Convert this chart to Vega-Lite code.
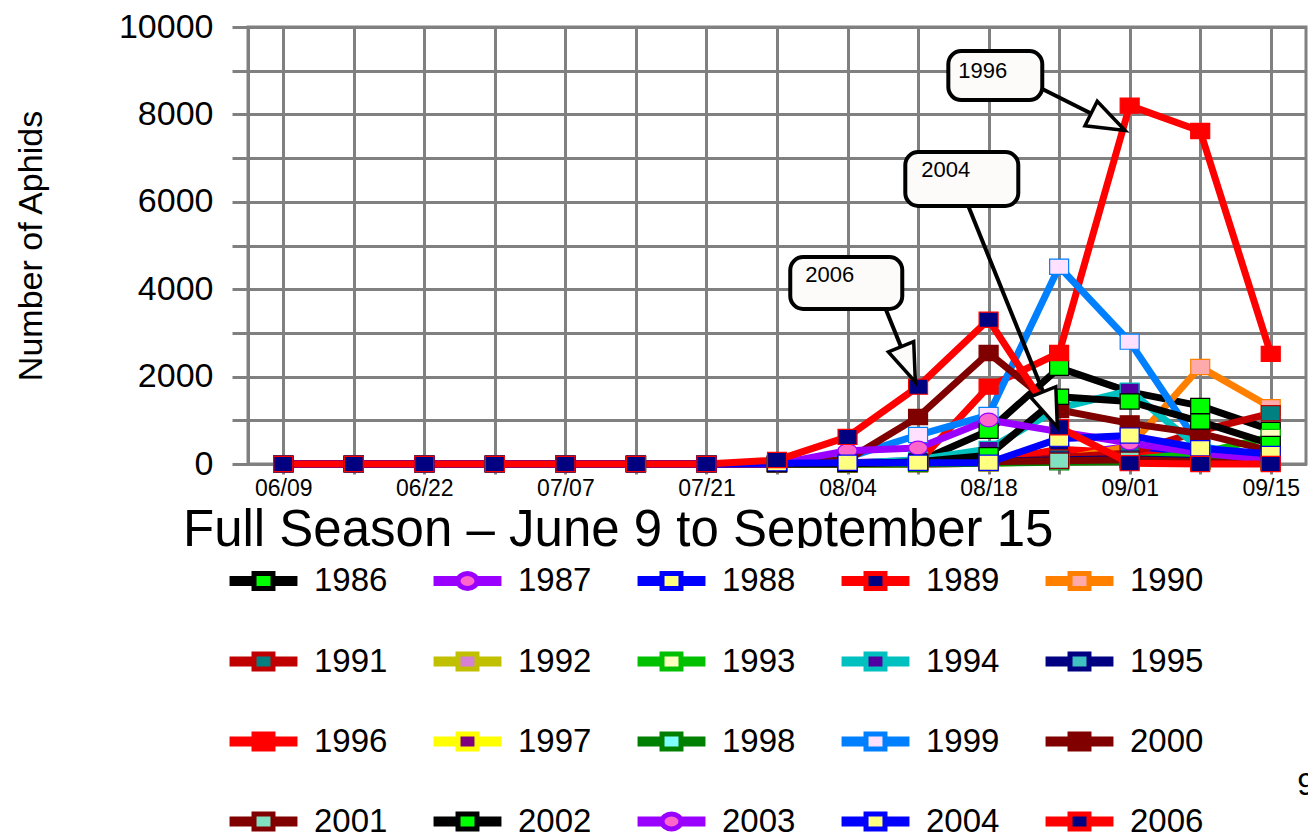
{
  "$schema": "https://vega.github.io/schema/vega-lite/v6.json",
  "width": 1058,
  "height": 437,
  "autosize": {"type": "none"},
  "padding": {"left": 248, "top": 27, "right": 2, "bottom": 371},
  "background": "white",
  "config": {
    "font": "Liberation Sans",
    "view": {"stroke": "#808080", "strokeWidth": 3}
  },
  "title": {
    "text": "Full Season – June 9 to September 15",
    "orient": "top",
    "anchor": "start",
    "frame": "group",
    "baseline": "alphabetic",
    "font": "Liberation Sans",
    "fontSize": 51,
    "fontWeight": "normal",
    "color": "black",
    "offset": 0,
    "dx": -65,
    "dy": 587,
    "zindex": 0
  },
  "datasets": {
    "aphids": [
      {"year":"1986","date":"06/09","aphids":0},{"year":"1986","date":"06/15","aphids":0},{"year":"1986","date":"06/22","aphids":0},{"year":"1986","date":"06/29","aphids":0},{"year":"1986","date":"07/07","aphids":0},{"year":"1986","date":"07/14","aphids":0},{"year":"1986","date":"07/21","aphids":0},{"year":"1986","date":"07/28","aphids":0},{"year":"1986","date":"08/04","aphids":20},{"year":"1986","date":"08/11","aphids":50},{"year":"1986","date":"08/18","aphids":760},{"year":"1986","date":"08/25","aphids":2200},{"year":"1986","date":"09/01","aphids":1650},{"year":"1986","date":"09/08","aphids":1330},{"year":"1986","date":"09/15","aphids":780},
      {"year":"1987","date":"06/09","aphids":0},{"year":"1987","date":"06/15","aphids":0},{"year":"1987","date":"06/22","aphids":0},{"year":"1987","date":"06/29","aphids":0},{"year":"1987","date":"07/07","aphids":0},{"year":"1987","date":"07/14","aphids":0},{"year":"1987","date":"07/21","aphids":0},{"year":"1987","date":"07/28","aphids":0},{"year":"1987","date":"08/04","aphids":30},{"year":"1987","date":"08/11","aphids":80},{"year":"1987","date":"08/18","aphids":100},{"year":"1987","date":"08/25","aphids":200},{"year":"1987","date":"09/01","aphids":400},{"year":"1987","date":"09/08","aphids":150},{"year":"1987","date":"09/15","aphids":50},
      {"year":"1988","date":"06/09","aphids":0},{"year":"1988","date":"06/15","aphids":0},{"year":"1988","date":"06/22","aphids":0},{"year":"1988","date":"06/29","aphids":0},{"year":"1988","date":"07/07","aphids":0},{"year":"1988","date":"07/14","aphids":0},{"year":"1988","date":"07/21","aphids":0},{"year":"1988","date":"07/28","aphids":0},{"year":"1988","date":"08/04","aphids":0},{"year":"1988","date":"08/11","aphids":10},{"year":"1988","date":"08/18","aphids":20},{"year":"1988","date":"08/25","aphids":250},{"year":"1988","date":"09/01","aphids":300},{"year":"1988","date":"09/08","aphids":200},{"year":"1988","date":"09/15","aphids":100},
      {"year":"1989","date":"06/09","aphids":0},{"year":"1989","date":"06/15","aphids":0},{"year":"1989","date":"06/22","aphids":0},{"year":"1989","date":"06/29","aphids":0},{"year":"1989","date":"07/07","aphids":0},{"year":"1989","date":"07/14","aphids":0},{"year":"1989","date":"07/21","aphids":0},{"year":"1989","date":"07/28","aphids":0},{"year":"1989","date":"08/04","aphids":0},{"year":"1989","date":"08/11","aphids":10},{"year":"1989","date":"08/18","aphids":50},{"year":"1989","date":"08/25","aphids":336},{"year":"1989","date":"09/01","aphids":250},{"year":"1989","date":"09/08","aphids":100},{"year":"1989","date":"09/15","aphids":50},
      {"year":"1990","date":"06/09","aphids":0},{"year":"1990","date":"06/15","aphids":0},{"year":"1990","date":"06/22","aphids":0},{"year":"1990","date":"06/29","aphids":0},{"year":"1990","date":"07/07","aphids":0},{"year":"1990","date":"07/14","aphids":0},{"year":"1990","date":"07/21","aphids":0},{"year":"1990","date":"07/28","aphids":0},{"year":"1990","date":"08/04","aphids":0},{"year":"1990","date":"08/11","aphids":0},{"year":"1990","date":"08/18","aphids":20},{"year":"1990","date":"08/25","aphids":100},{"year":"1990","date":"09/01","aphids":400},{"year":"1990","date":"09/08","aphids":2220},{"year":"1990","date":"09/15","aphids":1300},
      {"year":"1991","date":"06/09","aphids":0},{"year":"1991","date":"06/15","aphids":0},{"year":"1991","date":"06/22","aphids":0},{"year":"1991","date":"06/29","aphids":0},{"year":"1991","date":"07/07","aphids":0},{"year":"1991","date":"07/14","aphids":0},{"year":"1991","date":"07/21","aphids":0},{"year":"1991","date":"07/28","aphids":0},{"year":"1991","date":"08/04","aphids":0},{"year":"1991","date":"08/11","aphids":0},{"year":"1991","date":"08/18","aphids":20},{"year":"1991","date":"08/25","aphids":150},{"year":"1991","date":"09/01","aphids":250},{"year":"1991","date":"09/08","aphids":760},{"year":"1991","date":"09/15","aphids":1160},
      {"year":"1992","date":"06/09","aphids":0},{"year":"1992","date":"06/15","aphids":0},{"year":"1992","date":"06/22","aphids":0},{"year":"1992","date":"06/29","aphids":0},{"year":"1992","date":"07/07","aphids":0},{"year":"1992","date":"07/14","aphids":0},{"year":"1992","date":"07/21","aphids":0},{"year":"1992","date":"07/28","aphids":0},{"year":"1992","date":"08/04","aphids":0},{"year":"1992","date":"08/11","aphids":10},{"year":"1992","date":"08/18","aphids":30},{"year":"1992","date":"08/25","aphids":60},{"year":"1992","date":"09/01","aphids":80},{"year":"1992","date":"09/08","aphids":50},{"year":"1992","date":"09/15","aphids":20},
      {"year":"1993","date":"06/09","aphids":0},{"year":"1993","date":"06/15","aphids":0},{"year":"1993","date":"06/22","aphids":0},{"year":"1993","date":"06/29","aphids":0},{"year":"1993","date":"07/07","aphids":0},{"year":"1993","date":"07/14","aphids":0},{"year":"1993","date":"07/21","aphids":0},{"year":"1993","date":"07/28","aphids":0},{"year":"1993","date":"08/04","aphids":0},{"year":"1993","date":"08/11","aphids":10},{"year":"1993","date":"08/18","aphids":40},{"year":"1993","date":"08/25","aphids":60},{"year":"1993","date":"09/01","aphids":100},{"year":"1993","date":"09/08","aphids":250},{"year":"1993","date":"09/15","aphids":620},
      {"year":"1994","date":"06/09","aphids":0},{"year":"1994","date":"06/15","aphids":0},{"year":"1994","date":"06/22","aphids":0},{"year":"1994","date":"06/29","aphids":0},{"year":"1994","date":"07/07","aphids":0},{"year":"1994","date":"07/14","aphids":0},{"year":"1994","date":"07/21","aphids":0},{"year":"1994","date":"07/28","aphids":0},{"year":"1994","date":"08/04","aphids":10},{"year":"1994","date":"08/11","aphids":100},{"year":"1994","date":"08/18","aphids":343},{"year":"1994","date":"08/25","aphids":1281},{"year":"1994","date":"09/01","aphids":1677},{"year":"1994","date":"09/08","aphids":350},{"year":"1994","date":"09/15","aphids":100},
      {"year":"1995","date":"06/09","aphids":0},{"year":"1995","date":"06/15","aphids":0},{"year":"1995","date":"06/22","aphids":0},{"year":"1995","date":"06/29","aphids":0},{"year":"1995","date":"07/07","aphids":0},{"year":"1995","date":"07/14","aphids":0},{"year":"1995","date":"07/21","aphids":0},{"year":"1995","date":"07/28","aphids":0},{"year":"1995","date":"08/04","aphids":0},{"year":"1995","date":"08/11","aphids":20},{"year":"1995","date":"08/18","aphids":60},{"year":"1995","date":"08/25","aphids":100},{"year":"1995","date":"09/01","aphids":120},{"year":"1995","date":"09/08","aphids":80},{"year":"1995","date":"09/15","aphids":30},
      {"year":"1996","date":"06/09","aphids":0},{"year":"1996","date":"06/15","aphids":0},{"year":"1996","date":"06/22","aphids":0},{"year":"1996","date":"06/29","aphids":0},{"year":"1996","date":"07/07","aphids":0},{"year":"1996","date":"07/14","aphids":0},{"year":"1996","date":"07/21","aphids":0},{"year":"1996","date":"07/28","aphids":0},{"year":"1996","date":"08/04","aphids":0},{"year":"1996","date":"08/11","aphids":30},{"year":"1996","date":"08/18","aphids":1770},{"year":"1996","date":"08/25","aphids":2540},{"year":"1996","date":"09/01","aphids":8200},{"year":"1996","date":"09/08","aphids":7620},{"year":"1996","date":"09/15","aphids":2520},
      {"year":"1997","date":"06/09","aphids":0},{"year":"1997","date":"06/15","aphids":0},{"year":"1997","date":"06/22","aphids":0},{"year":"1997","date":"06/29","aphids":0},{"year":"1997","date":"07/07","aphids":0},{"year":"1997","date":"07/14","aphids":0},{"year":"1997","date":"07/21","aphids":0},{"year":"1997","date":"07/28","aphids":0},{"year":"1997","date":"08/04","aphids":0},{"year":"1997","date":"08/11","aphids":10},{"year":"1997","date":"08/18","aphids":20},{"year":"1997","date":"08/25","aphids":50},{"year":"1997","date":"09/01","aphids":60},{"year":"1997","date":"09/08","aphids":40},{"year":"1997","date":"09/15","aphids":10},
      {"year":"1998","date":"06/09","aphids":0},{"year":"1998","date":"06/15","aphids":0},{"year":"1998","date":"06/22","aphids":0},{"year":"1998","date":"06/29","aphids":0},{"year":"1998","date":"07/07","aphids":0},{"year":"1998","date":"07/14","aphids":0},{"year":"1998","date":"07/21","aphids":0},{"year":"1998","date":"07/28","aphids":0},{"year":"1998","date":"08/04","aphids":0},{"year":"1998","date":"08/11","aphids":0},{"year":"1998","date":"08/18","aphids":20},{"year":"1998","date":"08/25","aphids":40},{"year":"1998","date":"09/01","aphids":60},{"year":"1998","date":"09/08","aphids":50},{"year":"1998","date":"09/15","aphids":350},
      {"year":"1999","date":"06/09","aphids":0},{"year":"1999","date":"06/15","aphids":0},{"year":"1999","date":"06/22","aphids":0},{"year":"1999","date":"06/29","aphids":0},{"year":"1999","date":"07/07","aphids":0},{"year":"1999","date":"07/14","aphids":0},{"year":"1999","date":"07/21","aphids":0},{"year":"1999","date":"07/28","aphids":0},{"year":"1999","date":"08/04","aphids":150},{"year":"1999","date":"08/11","aphids":663},{"year":"1999","date":"08/18","aphids":1121},{"year":"1999","date":"08/25","aphids":4515},{"year":"1999","date":"09/01","aphids":2800},{"year":"1999","date":"09/08","aphids":400},{"year":"1999","date":"09/15","aphids":150},
      {"year":"2000","date":"06/09","aphids":0},{"year":"2000","date":"06/15","aphids":0},{"year":"2000","date":"06/22","aphids":0},{"year":"2000","date":"06/29","aphids":0},{"year":"2000","date":"07/07","aphids":0},{"year":"2000","date":"07/14","aphids":0},{"year":"2000","date":"07/21","aphids":0},{"year":"2000","date":"07/28","aphids":0},{"year":"2000","date":"08/04","aphids":100},{"year":"2000","date":"08/11","aphids":1075},{"year":"2000","date":"08/18","aphids":2540},{"year":"2000","date":"08/25","aphids":1235},{"year":"2000","date":"09/01","aphids":930},{"year":"2000","date":"09/08","aphids":700},{"year":"2000","date":"09/15","aphids":300},
      {"year":"2001","date":"06/09","aphids":0},{"year":"2001","date":"06/15","aphids":0},{"year":"2001","date":"06/22","aphids":0},{"year":"2001","date":"06/29","aphids":0},{"year":"2001","date":"07/07","aphids":0},{"year":"2001","date":"07/14","aphids":0},{"year":"2001","date":"07/21","aphids":0},{"year":"2001","date":"07/28","aphids":0},{"year":"2001","date":"08/04","aphids":20},{"year":"2001","date":"08/11","aphids":40},{"year":"2001","date":"08/18","aphids":50},{"year":"2001","date":"08/25","aphids":76},{"year":"2001","date":"09/01","aphids":100},{"year":"2001","date":"09/08","aphids":50},{"year":"2001","date":"09/15","aphids":30},
      {"year":"2002","date":"06/09","aphids":0},{"year":"2002","date":"06/15","aphids":0},{"year":"2002","date":"06/22","aphids":0},{"year":"2002","date":"06/29","aphids":0},{"year":"2002","date":"07/07","aphids":0},{"year":"2002","date":"07/14","aphids":0},{"year":"2002","date":"07/21","aphids":0},{"year":"2002","date":"07/28","aphids":0},{"year":"2002","date":"08/04","aphids":0},{"year":"2002","date":"08/11","aphids":50},{"year":"2002","date":"08/18","aphids":200},{"year":"2002","date":"08/25","aphids":1540},{"year":"2002","date":"09/01","aphids":1430},{"year":"2002","date":"09/08","aphids":970},{"year":"2002","date":"09/15","aphids":460},
      {"year":"2003","date":"06/09","aphids":0},{"year":"2003","date":"06/15","aphids":0},{"year":"2003","date":"06/22","aphids":0},{"year":"2003","date":"06/29","aphids":0},{"year":"2003","date":"07/07","aphids":0},{"year":"2003","date":"07/14","aphids":0},{"year":"2003","date":"07/21","aphids":0},{"year":"2003","date":"07/28","aphids":0},{"year":"2003","date":"08/04","aphids":305},{"year":"2003","date":"08/11","aphids":366},{"year":"2003","date":"08/18","aphids":1007},{"year":"2003","date":"08/25","aphids":740},{"year":"2003","date":"09/01","aphids":480},{"year":"2003","date":"09/08","aphids":250},{"year":"2003","date":"09/15","aphids":90},
      {"year":"2004","date":"06/09","aphids":0},{"year":"2004","date":"06/15","aphids":0},{"year":"2004","date":"06/22","aphids":0},{"year":"2004","date":"06/29","aphids":0},{"year":"2004","date":"07/07","aphids":0},{"year":"2004","date":"07/14","aphids":0},{"year":"2004","date":"07/21","aphids":0},{"year":"2004","date":"07/28","aphids":20},{"year":"2004","date":"08/04","aphids":30},{"year":"2004","date":"08/11","aphids":30},{"year":"2004","date":"08/18","aphids":30},{"year":"2004","date":"08/25","aphids":580},{"year":"2004","date":"09/01","aphids":650},{"year":"2004","date":"09/08","aphids":360},{"year":"2004","date":"09/15","aphids":230},
      {"year":"2006","date":"06/09","aphids":0},{"year":"2006","date":"06/15","aphids":0},{"year":"2006","date":"06/22","aphids":0},{"year":"2006","date":"06/29","aphids":0},{"year":"2006","date":"07/07","aphids":0},{"year":"2006","date":"07/14","aphids":0},{"year":"2006","date":"07/21","aphids":0},{"year":"2006","date":"07/28","aphids":90},{"year":"2006","date":"08/04","aphids":620},{"year":"2006","date":"08/11","aphids":1770},{"year":"2006","date":"08/18","aphids":3300},{"year":"2006","date":"08/25","aphids":840},{"year":"2006","date":"09/01","aphids":20},{"year":"2006","date":"09/08","aphids":0},{"year":"2006","date":"09/15","aphids":0}
    ],
    "boxes": [
      {"label": "1996", "x": 9.429, "x2": 10.761, "y": 9451, "y2": 8329, "tx": 9.57, "ty": 8993},
      {"label": "2004", "x": 8.819, "x2": 10.421, "y": 7139, "y2": 5904, "tx": 9.046, "ty": 6728},
      {"label": "2006", "x": 7.188, "x2": 8.776, "y": 4737, "y2": 3547, "tx": 7.401, "ty": 4325}
    ],
    "arrows": [
      {"label": "1996", "x": 10.705, "y": 8627, "x2": 11.694, "y2": 7826},
      {"label": "2004", "x": 9.712, "y": 5904, "x2": 10.874, "y2": 1249},
      {"label": "2006", "x": 8.535, "y": 3570, "x2": 8.86, "y2": 2279}
    ],
    "notes": [
      {"note": "9", "x": 14.377, "y": -7345}
    ]
  },
  "layer": [
    {
      "data": {"name": "aphids"},
      "encoding": {
        "x": {
          "field": "date", "type": "ordinal",
          "scale": {"type": "point", "padding": 0.5, "domain": ["06/09","06/15","06/22","06/29","07/07","07/14","07/21","07/28","08/04","08/11","08/18","08/25","09/01","09/08","09/15"]},
          "axis": {
            "title": null,
            "labelExpr": "indexof(['06/09','06/22','07/07','07/21','08/04','08/18','09/01','09/15'], datum.value) >= 0 ? datum.value : ''",
            "labelAngle": 0, "labelOverlap": false,
            "labelFont": "Liberation Sans", "labelFontSize": 23, "labelColor": "black", "labelPadding": 3,
            "grid": true, "gridColor": "#808080", "gridWidth": 3, "gridOpacity": 1,
            "ticks": true, "tickSize": 10, "tickColor": "#808080", "tickWidth": 3, "tickOpacity": 1,
            "domain": true, "domainColor": "#808080", "domainWidth": 3, "domainOpacity": 1
          }
        },
        "y": {
          "field": "aphids", "type": "quantitative",
          "scale": {"domain": [0, 10000], "nice": false},
          "axis": {
            "title": "Number of Aphids",
            "titleFont": "Liberation Sans", "titleFontSize": 34, "titleFontWeight": "normal", "titleColor": "black", "titlePadding": 70,
            "values": [0,1000,2000,3000,4000,5000,6000,7000,8000,9000,10000],
            "format": "d",
            "labelExpr": "datum.value % 2000 == 0 ? datum.label : ''",
            "labelOverlap": false,
            "labelFont": "Liberation Sans", "labelFontSize": 34, "labelColor": "black", "labelPadding": 19,
            "grid": true, "gridColor": "#808080", "gridWidth": 3, "gridOpacity": 1,
            "ticks": true, "tickSize": 16, "tickColor": "#808080", "tickWidth": 3, "tickOpacity": 1,
            "domain": true, "domainColor": "#808080", "domainWidth": 3, "domainOpacity": 1
          }
        }
      },
      "layer": [
        {
          "mark": {"type": "line", "strokeWidth": 7, "strokeJoin": "round", "opacity": 1},
          "encoding": {
            "stroke": {
              "field": "year", "type": "nominal",
              "scale": {
                "domain": ["1986","1987","1988","1989","1990","1991","1992","1993","1994","1995","1996","1997","1998","1999","2000","2001","2002","2003","2004","2006"],
                "range": ["#000000","#9900FF","#0000FF","#FF0000","#FF8000","#C00000","#C0C000","#00C000","#00C0C0","#000080","#FF0000","#FFFF00","#008000","#0080FF","#800000","#800000","#000000","#9900FF","#0000FF","#FF0000"]
              },
              "legend": {
                "title": null, "orient": "none", "legendX": -17, "legendY": 521,
                "direction": "horizontal", "columns": 5, "padding": 0,
                "fillColor": "white", "zindex": 1,
                "symbolType": "M-2.298,-0.98M-1.132,-0.082H-0.316M-1.132,0.082H-0.316M0.316,-0.082H1.132M0.316,0.082H1.132M-0.316,-0.25H0.316V0.25H-0.316Z",
                "symbolSize": 3600, "symbolStrokeWidth": 5,
                "labelFont": "Liberation Sans", "labelFontSize": 33, "labelColor": "black", "labelOffset": 18, "labelLimit": 300,
                "columnPadding": 0, "rowPadding": 23
              }
            },
            "strokeWidth": {"condition": {"test": "datum.year == '1996'", "value": 10}, "value": 7}
          }
        },
        {
          "mark": {
            "type": "point", "filled": true, "size": 361, "strokeWidth": 1.2, "opacity": 1,
            "shape": {"expr": "indexof(['1987','2003'], datum.year) >= 0 ? 'M-1,0A1,0.72,0,1,1,1,0A1,0.72,0,1,1,-1,0Z' : 'M-1,-0.8H1V0.8H-1Z'"}
          },
          "encoding": {
            "fill": {
              "field": "year", "type": "nominal",
              "scale": {
                "domain": ["1986","1987","1988","1989","1990","1991","1992","1993","1994","1995","1996","1997","1998","1999","2000","2001","2002","2003","2004","2006"],
                "range": ["#00FF00","#FF66CC","#FFFF80","#000080","#FFAAAA","#008080","#D580D5","#FFFFC0","#5000A0","#40C0C0","#FF0000","#800080","#80FFFF","#FFE0FF","#800000","#80E0C0","#00FF00","#FF66CC","#FFFF80","#000080"]
              },
              "legend": {
                "title": null, "orient": "none", "legendX": -17, "legendY": 521,
                "direction": "horizontal", "columns": 5, "padding": 0,
                "fillColor": "white", "zindex": 1,
                "symbolType": "M-2.298,-0.98M-1.132,-0.082H-0.316M-1.132,0.082H-0.316M0.316,-0.082H1.132M0.316,0.082H1.132M-0.316,-0.25H0.316V0.25H-0.316Z",
                "symbolSize": 3600, "symbolStrokeWidth": 5,
                "labelFont": "Liberation Sans", "labelFontSize": 33, "labelColor": "black", "labelOffset": 18, "labelLimit": 300,
                "columnPadding": 0, "rowPadding": 23
              }
            },
            "stroke": {
              "field": "year", "type": "nominal",
              "scale": {
                "domain": ["1986","1987","1988","1989","1990","1991","1992","1993","1994","1995","1996","1997","1998","1999","2000","2001","2002","2003","2004","2006"],
                "range": ["#000000","#9900FF","#0000FF","#FF0000","#FF8000","#C00000","#C0C000","#00C000","#00C0C0","#000080","#FF0000","#FFFF00","#008000","#0080FF","#800000","#800000","#000000","#9900FF","#0000FF","#FF0000"]
              },
              "legend": {
                "title": null, "orient": "none", "legendX": -17, "legendY": 521,
                "direction": "horizontal", "columns": 5, "padding": 0,
                "fillColor": "white", "zindex": 1,
                "symbolType": "M-2.298,-0.98M-1.132,-0.082H-0.316M-1.132,0.082H-0.316M0.316,-0.082H1.132M0.316,0.082H1.132M-0.316,-0.25H0.316V0.25H-0.316Z",
                "symbolSize": 3600, "symbolStrokeWidth": 5,
                "labelFont": "Liberation Sans", "labelFontSize": 33, "labelColor": "black", "labelOffset": 18, "labelLimit": 300,
                "columnPadding": 0, "rowPadding": 23
              }
            }
          }
        },
        {
          "transform": [{"filter": "datum.date == '06/09'"}],
          "mark": {"type": "point", "filled": true, "opacity": 0, "size": 30},
          "encoding": {
            "shape": {
              "field": "year", "type": "nominal",
              "scale": {
                "domain": ["1986","1987","1988","1989","1990","1991","1992","1993","1994","1995","1996","1997","1998","1999","2000","2001","2002","2003","2004","2006"],
                "range": [
                  "M-2.298,-0.98M-1.132,-0.082H-0.316M-1.132,0.082H-0.316M0.316,-0.082H1.132M0.316,0.082H1.132M-0.316,-0.25H0.316V0.25H-0.316Z",
                  "M-2.298,-0.98M-1.132,-0.082H-0.316M-1.132,0.082H-0.316M0.316,-0.082H1.132M0.316,0.082H1.132M-0.316,0A0.316,0.25,0,1,1,0.316,0A0.316,0.25,0,1,1,-0.316,0Z",
                  "M-2.298,-0.98M-1.132,-0.082H-0.316M-1.132,0.082H-0.316M0.316,-0.082H1.132M0.316,0.082H1.132M-0.316,-0.25H0.316V0.25H-0.316Z",
                  "M-2.298,-0.98M-1.132,-0.082H-0.316M-1.132,0.082H-0.316M0.316,-0.082H1.132M0.316,0.082H1.132M-0.316,-0.25H0.316V0.25H-0.316Z",
                  "M-2.298,-0.98M-1.132,-0.082H-0.316M-1.132,0.082H-0.316M0.316,-0.082H1.132M0.316,0.082H1.132M-0.316,-0.25H0.316V0.25H-0.316Z",
                  "M-2.298,-0.98M-1.132,-0.082H-0.316M-1.132,0.082H-0.316M0.316,-0.082H1.132M0.316,0.082H1.132M-0.316,-0.25H0.316V0.25H-0.316Z",
                  "M-2.298,-0.98M-1.132,-0.082H-0.316M-1.132,0.082H-0.316M0.316,-0.082H1.132M0.316,0.082H1.132M-0.316,-0.25H0.316V0.25H-0.316Z",
                  "M-2.298,-0.98M-1.132,-0.082H-0.316M-1.132,0.082H-0.316M0.316,-0.082H1.132M0.316,0.082H1.132M-0.316,-0.25H0.316V0.25H-0.316Z",
                  "M-2.298,-0.98M-1.132,-0.082H-0.316M-1.132,0.082H-0.316M0.316,-0.082H1.132M0.316,0.082H1.132M-0.316,-0.25H0.316V0.25H-0.316Z",
                  "M-2.298,-0.98M-1.132,-0.082H-0.316M-1.132,0.082H-0.316M0.316,-0.082H1.132M0.316,0.082H1.132M-0.316,-0.25H0.316V0.25H-0.316Z",
                  "M-2.298,-0.98M-1.132,-0.082H-0.316M-1.132,0.082H-0.316M0.316,-0.082H1.132M0.316,0.082H1.132M-0.316,-0.25H0.316V0.25H-0.316Z",
                  "M-2.298,-0.98M-1.132,-0.082H-0.316M-1.132,0.082H-0.316M0.316,-0.082H1.132M0.316,0.082H1.132M-0.316,-0.25H0.316V0.25H-0.316Z",
                  "M-2.298,-0.98M-1.132,-0.082H-0.316M-1.132,0.082H-0.316M0.316,-0.082H1.132M0.316,0.082H1.132M-0.316,-0.25H0.316V0.25H-0.316Z",
                  "M-2.298,-0.98M-1.132,-0.082H-0.316M-1.132,0.082H-0.316M0.316,-0.082H1.132M0.316,0.082H1.132M-0.316,-0.25H0.316V0.25H-0.316Z",
                  "M-2.298,-0.98M-1.132,-0.082H-0.316M-1.132,0.082H-0.316M0.316,-0.082H1.132M0.316,0.082H1.132M-0.316,-0.25H0.316V0.25H-0.316Z",
                  "M-2.298,-0.98M-1.132,-0.082H-0.316M-1.132,0.082H-0.316M0.316,-0.082H1.132M0.316,0.082H1.132M-0.316,-0.25H0.316V0.25H-0.316Z",
                  "M-2.298,-0.98M-1.132,-0.082H-0.316M-1.132,0.082H-0.316M0.316,-0.082H1.132M0.316,0.082H1.132M-0.316,-0.25H0.316V0.25H-0.316Z",
                  "M-2.298,-0.98M-1.132,-0.082H-0.316M-1.132,0.082H-0.316M0.316,-0.082H1.132M0.316,0.082H1.132M-0.316,0A0.316,0.25,0,1,1,0.316,0A0.316,0.25,0,1,1,-0.316,0Z",
                  "M-2.298,-0.98M-1.132,-0.082H-0.316M-1.132,0.082H-0.316M0.316,-0.082H1.132M0.316,0.082H1.132M-0.316,-0.25H0.316V0.25H-0.316Z",
                  "M-2.298,-0.98M-1.132,-0.082H-0.316M-1.132,0.082H-0.316M0.316,-0.082H1.132M0.316,0.082H1.132M-0.316,-0.25H0.316V0.25H-0.316Z"
                ]
              },
              "legend": {
                "title": null, "orient": "none", "legendX": -17, "legendY": 521,
                "direction": "horizontal", "columns": 5, "padding": 0,
                "fillColor": "white", "zindex": 1,
                "symbolSize": 3600, "symbolStrokeWidth": 5,
                "labelFont": "Liberation Sans", "labelFontSize": 33, "labelColor": "black", "labelOffset": 18, "labelLimit": 300,
                "columnPadding": 0, "rowPadding": 23
              }
            }
          }
        }
      ]
    },
    {
      "data": {"name": "arrows"},
      "mark": {"type": "rule", "color": "black", "strokeWidth": 4},
      "encoding": {
        "x": {"field": "x", "type": "quantitative", "scale": {"domain": [-0.5, 14.5], "nice": false, "zero": false}, "axis": null},
        "x2": {"field": "x2"},
        "y": {"field": "y", "type": "quantitative", "scale": {"domain": [0, 10000], "nice": false}, "axis": null},
        "y2": {"field": "y2"}
      }
    },
    {
      "data": {"name": "arrows"},
      "mark": {
        "type": "point", "filled": true, "fill": "#FCFBF9", "stroke": "black", "strokeWidth": 3.5, "opacity": 1,
        "shape": "M1,0L-1,-0.72L-1,0.72Z", "size": 1444,
        "angle": {"expr": "atan2((datum.y - datum.y2) * 0.0437, (datum.x2 - datum.x) * 70.53) * 180 / PI"}
      },
      "encoding": {
        "x": {"field": "x2", "type": "quantitative", "scale": {"domain": [-0.5, 14.5], "nice": false, "zero": false}, "axis": null},
        "y": {"field": "y2", "type": "quantitative", "scale": {"domain": [0, 10000], "nice": false}, "axis": null}
      }
    },
    {
      "data": {"name": "boxes"},
      "mark": {"type": "rect", "fill": "#FCFBF9", "stroke": "black", "strokeWidth": 4, "cornerRadius": 13, "opacity": 1},
      "encoding": {
        "x": {"field": "x", "type": "quantitative", "scale": {"domain": [-0.5, 14.5], "nice": false, "zero": false}, "axis": null},
        "x2": {"field": "x2"},
        "y": {"field": "y", "type": "quantitative", "scale": {"domain": [0, 10000], "nice": false}, "axis": null},
        "y2": {"field": "y2"}
      }
    },
    {
      "data": {"name": "boxes"},
      "mark": {"type": "text", "align": "left", "baseline": "middle", "font": "Liberation Sans", "fontSize": 22, "color": "black"},
      "encoding": {
        "x": {"field": "tx", "type": "quantitative", "scale": {"domain": [-0.5, 14.5], "nice": false, "zero": false}, "axis": null},
        "y": {"field": "ty", "type": "quantitative", "scale": {"domain": [0, 10000], "nice": false}, "axis": null},
        "text": {"field": "label"}
      }
    },
    {
      "data": {"name": "notes"},
      "mark": {"type": "text", "align": "left", "baseline": "middle", "font": "Liberation Sans", "fontSize": 32, "color": "black"},
      "encoding": {
        "x": {"field": "x", "type": "quantitative", "scale": {"domain": [-0.5, 14.5], "nice": false, "zero": false}, "axis": null},
        "y": {"field": "y", "type": "quantitative", "scale": {"domain": [0, 10000], "nice": false}, "axis": null},
        "text": {"field": "note"}
      }
    }
  ],
  "resolve": {"scale": {"x": "independent", "y": "independent"}}
}
